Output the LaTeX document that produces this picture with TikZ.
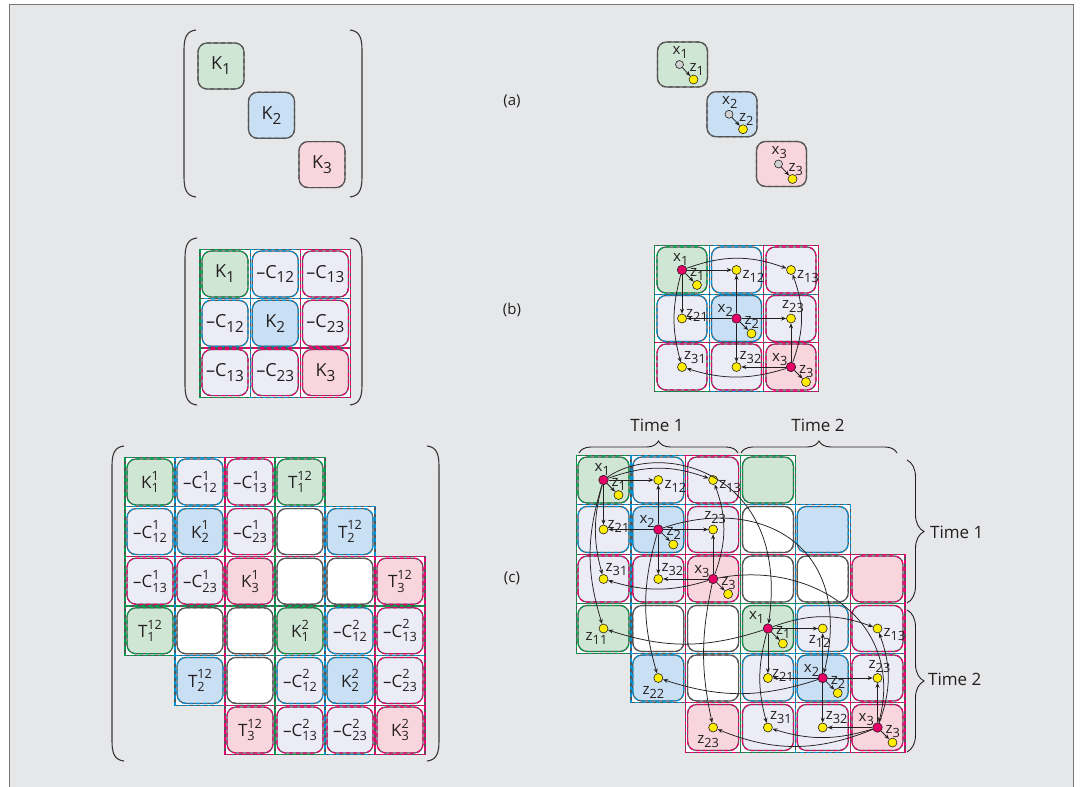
\documentclass[tikz,border=0pt]{standalone}
\usepackage{fontspec}
\setmainfont{Open Sans}
\usetikzlibrary{arrows.meta,decorations.pathreplacing}
\definecolor{bg}{RGB}{230,231,233}
\definecolor{fg}{RGB}{207,230,213}
\definecolor{fb}{RGB}{201,224,244}
\definecolor{fp}{RGB}{249,214,222}
\definecolor{fl}{RGB}{236,236,246}
\definecolor{dg}{RGB}{0,158,76}
\definecolor{db}{RGB}{0,146,214}
\definecolor{dp}{RGB}{232,0,112}
\definecolor{bd}{RGB}{85,85,85}
\definecolor{mag}{RGB}{228,0,100}
\definecolor{yel}{RGB}{255,237,0}
\definecolor{txt}{RGB}{35,31,32}
\definecolor{frm}{RGB}{120,120,120}

\newcommand{\lsub}[1]{\raisebox{-0.27em}{\scalebox{0.85}{#1}}}
\newcommand{\lsupsub}[2]{%
  \setbox0=\hbox{\scalebox{0.75}{#1}}%
  \setbox2=\hbox{\scalebox{0.75}{#2}}%
  \ifdim\wd0>\wd2 \dimen0=\wd0 \else \dimen0=\wd2 \fi
  \rlap{\raisebox{0.5em}{\copy0}}\raisebox{-0.25em}{\makebox[\dimen0][l]{\copy2}}}
\newcommand{\Cell}[6]{%
  \node[cell, fill=#4] (#1) at ({\gox+(#3-1)*\gpx},{\goy+(#2-1)*\gpy}) {#6};
  \draw[celldash, draw=#5] (#1.south west) rectangle (#1.north east);}
\newcommand{\RowBand}[4]{\path[band=#4] ({\gox+(#2-1.5)*\gpx},{\goy+(#1-1.5)*\gpy}) rectangle ({\gox+(#3-0.5)*\gpx},{\goy+(#1-0.5)*\gpy});}
\newcommand{\ColBand}[4]{\path[band=#4] ({\gox+(#1-1.5)*\gpx},{\goy+(#2-1.5)*\gpy}) rectangle ({\gox+(#1-0.5)*\gpx},{\goy+(#3-0.5)*\gpy});}
\newcommand{\BandsB}{\RowBand{1}{1}{3}{dg}\RowBand{2}{1}{3}{db}\RowBand{3}{1}{3}{dp}%
  \ColBand{1}{1}{3}{dg}\ColBand{2}{1}{3}{db}\ColBand{3}{1}{3}{dp}}
\newcommand{\BandsC}{\RowBand{1}{1}{4}{dg}\RowBand{2}{1}{5}{db}\RowBand{3}{1}{6}{dp}%
  \RowBand{4}{1}{6}{dg}\RowBand{5}{2}{6}{db}\RowBand{6}{3}{6}{dp}%
  \ColBand{1}{1}{4}{dg}\ColBand{2}{1}{5}{db}\ColBand{3}{1}{6}{dp}%
  \ColBand{4}{1}{6}{dg}\ColBand{5}{2}{6}{db}\ColBand{6}{3}{6}{dp}}
\newcommand{\LParen}[3]{\draw[paren] ({#1+12},#2) .. controls ({#1+3},{#2+1}) and (#1,{#2+7}) .. (#1,{#2+20}) -- (#1,{#3-20}) .. controls (#1,{#3-7}) and ({#1+3},{#3-1}) .. ({#1+12},#3);}
\newcommand{\RParen}[3]{\draw[paren] ({#1-12},#2) .. controls ({#1-3},{#2+1}) and (#1,{#2+7}) .. (#1,{#2+20}) -- (#1,{#3-20}) .. controls (#1,{#3-7}) and ({#1-3},{#3-1}) .. ({#1-12},#3);}
\newcommand{\Block}[4]{%
  \node[xdot] (#1x1) at ({\gox},{\goy}) {};
  \node[xdot] (#1x2) at ({\gox+\gpx},{\goy+\gpy}) {};
  \node[xdot] (#1x3) at ({\gox+2*\gpx},{\goy+2*\gpy}) {};
  \node[zdot] (#1z1) at ([shift={(15,15)}]#1x1.center) {};
  \node[zdot] (#1z2) at ([shift={(15,15)}]#1x2.center) {};
  \node[zdot] (#1z3) at ([shift={(15,15)}]#1x3.center) {};
  \node[zdot] (#1z12) at ({\gox+\gpx},{\goy}) {};
  \node[zdot] (#1z13) at ({\gox+2*\gpx},{\goy}) {};
  \node[zdot] (#1z21) at ({\gox},{\goy+\gpy}) {};
  \node[zdot] (#1z23) at ({\gox+2*\gpx},{\goy+\gpy}) {};
  \node[zdot] (#1z31) at ({\gox},{\goy+2*\gpy}) {};
  \node[zdot] (#1z32) at ({\gox+\gpx},{\goy+2*\gpy}) {};
  \draw[arr] (#1x1) -- (#1z1);
  \draw[arr] (#1x2) -- (#1z2);
  \draw[arr] (#1x3) -- (#1z3);
  \draw[arr] (#1x1) -- (#1z12);
  \draw[arr] (#1x1) to[bend left=20] (#1z13);
  \draw[arr] (#1x1) -- (#1z21);
  \draw[arr] (#1x1) to[bend right=15] (#1z31);
  \draw[arr] (#1x2) -- (#1z21);
  \draw[arr] (#1x2) -- (#1z23);
  \draw[arr] (#1x2) -- (#1z12);
  \draw[arr] (#1x2) -- (#1z32);
  \draw[arr] (#1x3) -- (#1z32);
  \draw[arr] (#1x3) to[bend left=17] (#1z31);
  \draw[arr] (#1x3) -- (#1z23);
  \draw[arr] (#1x3) to[bend right=20] (#1z13);
  \node[lab] (#1lx1) at ([shift={(#2,-9)}]#1x1.center) {x\lsub{1}};
  \node[lab] (#1lx2) at ([shift={(-19,-6)}]#1x2.center) {x\lsub{2}};
  \node[lab] (#1lx3) at ([shift={(-19,-6)}]#1x3.center) {x\lsub{3}};
  \node[lab] (#1lz1) at ([shift={(-7,-9)}]#1z1.center) {z\lsub{1}};
  \node[lab] (#1lz2) at ([shift={(-7,-9)}]#1z2.center) {z\lsub{2}};
  \node[lab] (#1lz3) at ([shift={(-7,-9)}]#1z3.center) {z\lsub{3}};
  \node[lab] (#1lz12) at ([shift={(#3,#4)}]#1z12.center) {z\lsub{12}};
  \node[lab] (#1lz13) at ([shift={(6,8)}]#1z13.center) {z\lsub{13}};
  \node[lab] (#1lz21) at ([shift={(4,-1)}]#1z21.center) {z\lsub{21}};
  \node[lab] (#1lz23) at ([shift={(-9,-10)}]#1z23.center) {z\lsub{23}};
  \node[lab] (#1lz31) at ([shift={(2,-8)}]#1z31.center) {z\lsub{31}};
  \node[lab] (#1lz32) at ([shift={(3,-8)}]#1z32.center) {z\lsub{32}};
}

\tikzset{
  cell/.style={draw=bd, line width=1.2pt, rounded corners=9pt, inner sep=0pt, outer sep=0pt, text=txt},
  celldash/.style={rounded corners=9pt, line width=1.2pt, dash pattern=on 4pt off 3pt},
  bandfill/.style={fill=white},
  banddraw/.style={preaction={draw=bd, solid, line width=1.2pt}, draw=#1, dash pattern=on 4pt off 3pt, line width=1.2pt},
  paren/.style={draw=txt!90, line width=1.1pt},
  xdot/.style={circle, fill=mag, draw=txt, line width=0.6pt, minimum size=9.5pt, inner sep=0pt},
  zdot/.style={circle, fill=yel, draw=txt, line width=0.6pt, minimum size=9pt, inner sep=0pt},
  gdot/.style={circle, fill=black!18, draw=txt, line width=0.6pt, minimum size=8pt, inner sep=0pt},
  arr/.style={draw=txt, line width=0.75pt, -{Stealth[length=5pt,width=4pt]}},
  lab/.style={font=\fontsize{15}{15}\selectfont, inner sep=0pt, text=txt, anchor=base west},
  plab/.style={font=\fontsize{15}{15}\selectfont, inner sep=0pt, text=txt},
  tlab/.style={font=\fontsize{17}{17}\selectfont, inner sep=0pt, text=txt},
  tbrace/.style={decorate, decoration={brace, amplitude=#1}, draw=txt, line width=0.9pt},
}

\begin{document}
\begin{tikzpicture}[x=1pt,y=-1pt]
\useasboundingbox (0,0) rectangle (1082,787);
\fill[white] (0,0) rectangle (1082,787);
\fill[bg] (9,4) rectangle (1073,787);
\draw[frm, line width=1pt] (9,787) -- (9,4) -- (1073,4) -- (1073,787);

% ---------- (a) left
\begin{scope}[cell/.append style={minimum width=46pt, minimum height=46pt, font=\fontsize{18}{18}\selectfont}]
\def\gox{221}\def\goy{66}\def\gpx{50.5}\def\gpy{49.3}
\Cell{al-1}{1}{1}{fg}{bd}{K\lsub{1}}
\Cell{al-2}{2}{2}{fb}{bd}{K\lsub{2}}
\Cell{al-3}{3}{3}{fp}{bd}{K\lsub{3}}
\end{scope}
\LParen{184}{30}{197}
\RParen{362}{30}{197}

% ---------- (a) right
\begin{scope}[cell/.append style={minimum width=50pt, minimum height=45pt}]
\def\gox{682.5}\def\goy{64.5}\def\gpx{49.5}\def\gpy{49.75}
\Cell{ar-1}{1}{1}{fg}{bd}{}
\Cell{ar-2}{2}{2}{fb}{bd}{}
\Cell{ar-3}{3}{3}{fp}{bd}{}
\end{scope}
\node[gdot] (ag1) at (679.5,64.5) {};
\node[gdot] (ag2) at (729,114.25) {};
\node[gdot] (ag3) at (778.5,164) {};
\node[zdot] (ay1) at ([shift={(14,15)}]ag1.center) {};
\node[zdot] (ay2) at ([shift={(14,15)}]ag2.center) {};
\node[zdot] (ay3) at ([shift={(14,15)}]ag3.center) {};
\draw[arr] (ag1) -- (ay1);
\draw[arr] (ag2) -- (ay2);
\draw[arr] (ag3) -- (ay3);
\node[lab] (alx1) at ([shift={(-7,-10)}]ag1.center) {x\lsub{1}};
\node[lab] (alx2) at ([shift={(-7,-10)}]ag2.center) {x\lsub{2}};
\node[lab] (alx3) at ([shift={(-7,-10)}]ag3.center) {x\lsub{3}};
\node[lab] (alz1) at ([shift={(-4,-8)}]ay1.center) {z\lsub{1}};
\node[lab] (alz2) at ([shift={(-4,-8)}]ay2.center) {z\lsub{2}};
\node[lab] (alz3) at ([shift={(-4,-8)}]ay3.center) {z\lsub{3}};

% ---------- (b) left
\begin{scope}[cell/.append style={minimum width=46pt, minimum height=46pt, font=\fontsize{18}{18}\selectfont}]
\def\gox{225}\def\goy{274}\def\gpx{50.2}\def\gpy{49.3}
\tikzset{band/.style={bandfill}}\BandsB
\tikzset{band/.style={banddraw=#1}}\BandsB
\Cell{bl-1-1}{1}{1}{fg}{dg}{K\lsub{1}}
\Cell{bl-1-2}{1}{2}{fl}{db}{\textendash C\lsub{12}}
\Cell{bl-1-3}{1}{3}{fl}{dp}{\textendash C\lsub{13}}
\Cell{bl-2-1}{2}{1}{fl}{db}{\textendash C\lsub{12}}
\Cell{bl-2-2}{2}{2}{fb}{db}{K\lsub{2}}
\Cell{bl-2-3}{2}{3}{fl}{dp}{\textendash C\lsub{23}}
\Cell{bl-3-1}{3}{1}{fl}{dp}{\textendash C\lsub{13}}
\Cell{bl-3-2}{3}{2}{fl}{dp}{\textendash C\lsub{23}}
\Cell{bl-3-3}{3}{3}{fp}{dp}{K\lsub{3}}
\end{scope}
\LParen{185}{238}{405}
\RParen{362}{238}{405}

% ---------- (b) right
\begin{scope}[cell/.append style={minimum width=50pt, minimum height=46pt}]
\def\gox{682}\def\goy{270}\def\gpx{54.5}\def\gpy{48.5}
\tikzset{band/.style={bandfill}}\BandsB
\tikzset{band/.style={banddraw=#1}}\BandsB
\Cell{br-1-1}{1}{1}{fg}{dg}{}
\Cell{br-1-2}{1}{2}{fl}{db}{}
\Cell{br-1-3}{1}{3}{fl}{dp}{}
\Cell{br-2-1}{2}{1}{fl}{db}{}
\Cell{br-2-2}{2}{2}{fb}{db}{}
\Cell{br-2-3}{2}{3}{fl}{dp}{}
\Cell{br-3-1}{3}{1}{fl}{dp}{}
\Cell{br-3-2}{3}{2}{fl}{dp}{}
\Cell{br-3-3}{3}{3}{fp}{dp}{}
\Block{b}{-9}{6}{8}
\end{scope}

% ---------- (c) left
\begin{scope}[cell/.append style={minimum width=46pt, minimum height=46pt, font=\fontsize{17}{17}\selectfont}]
\def\gox{150}\def\goy{482}\def\gpx{50}\def\gpy{49.6}
\tikzset{band/.style={bandfill}}\BandsC
\tikzset{band/.style={banddraw=#1}}\BandsC
\Cell{cl-1-1}{1}{1}{fg}{dg}{K\lsupsub{1}{1}}
\Cell{cl-1-2}{1}{2}{fl}{db}{\textendash C\lsupsub{1}{12}}
\Cell{cl-1-3}{1}{3}{fl}{dp}{\textendash C\lsupsub{1}{13}}
\Cell{cl-1-4}{1}{4}{fg}{dg}{T\lsupsub{12}{1}}
\Cell{cl-2-1}{2}{1}{fl}{db}{\textendash C\lsupsub{1}{12}}
\Cell{cl-2-2}{2}{2}{fb}{db}{K\lsupsub{1}{2}}
\Cell{cl-2-3}{2}{3}{fl}{dp}{\textendash C\lsupsub{1}{23}}
\Cell{cl-2-4}{2}{4}{white}{bd}{}
\Cell{cl-2-5}{2}{5}{fb}{db}{T\lsupsub{12}{2}}
\Cell{cl-3-1}{3}{1}{fl}{dp}{\textendash C\lsupsub{1}{13}}
\Cell{cl-3-2}{3}{2}{fl}{dp}{\textendash C\lsupsub{1}{23}}
\Cell{cl-3-3}{3}{3}{fp}{dp}{K\lsupsub{1}{3}}
\Cell{cl-3-4}{3}{4}{white}{bd}{}
\Cell{cl-3-5}{3}{5}{white}{bd}{}
\Cell{cl-3-6}{3}{6}{fp}{dp}{T\lsupsub{12}{3}}
\Cell{cl-4-1}{4}{1}{fg}{dg}{T\lsupsub{12}{1}}
\Cell{cl-4-2}{4}{2}{white}{bd}{}
\Cell{cl-4-3}{4}{3}{white}{bd}{}
\Cell{cl-4-4}{4}{4}{fg}{dg}{K\lsupsub{2}{1}}
\Cell{cl-4-5}{4}{5}{fl}{db}{\textendash C\lsupsub{2}{12}}
\Cell{cl-4-6}{4}{6}{fl}{dp}{\textendash C\lsupsub{2}{13}}
\Cell{cl-5-2}{5}{2}{fb}{db}{T\lsupsub{12}{2}}
\Cell{cl-5-3}{5}{3}{white}{bd}{}
\Cell{cl-5-4}{5}{4}{fl}{db}{\textendash C\lsupsub{2}{12}}
\Cell{cl-5-5}{5}{5}{fb}{db}{K\lsupsub{2}{2}}
\Cell{cl-5-6}{5}{6}{fl}{dp}{\textendash C\lsupsub{2}{23}}
\Cell{cl-6-3}{6}{3}{fp}{dp}{T\lsupsub{12}{3}}
\Cell{cl-6-4}{6}{4}{fl}{dp}{\textendash C\lsupsub{2}{13}}
\Cell{cl-6-5}{6}{5}{fl}{dp}{\textendash C\lsupsub{2}{23}}
\Cell{cl-6-6}{6}{6}{fp}{dp}{K\lsupsub{2}{3}}
\end{scope}
\LParen{112}{446}{761}
\RParen{439}{446}{761}

% ---------- (c) right
\begin{scope}[cell/.append style={minimum width=51pt, minimum height=46pt}]
\def\gox{603.5}\def\goy{480}\def\gpx{54.8}\def\gpy{49.5}
\tikzset{band/.style={bandfill}}\BandsC
\tikzset{band/.style={banddraw=#1}}\BandsC
\Cell{cr-1-1}{1}{1}{fg}{dg}{}
\Cell{cr-1-2}{1}{2}{fl}{db}{}
\Cell{cr-1-3}{1}{3}{fl}{dp}{}
\Cell{cr-1-4}{1}{4}{fg}{dg}{}
\Cell{cr-2-1}{2}{1}{fl}{db}{}
\Cell{cr-2-2}{2}{2}{fb}{db}{}
\Cell{cr-2-3}{2}{3}{fl}{dp}{}
\Cell{cr-2-4}{2}{4}{white}{bd}{}
\Cell{cr-2-5}{2}{5}{fb}{db}{}
\Cell{cr-3-1}{3}{1}{fl}{dp}{}
\Cell{cr-3-2}{3}{2}{fl}{dp}{}
\Cell{cr-3-3}{3}{3}{fp}{dp}{}
\Cell{cr-3-4}{3}{4}{white}{bd}{}
\Cell{cr-3-5}{3}{5}{white}{bd}{}
\Cell{cr-3-6}{3}{6}{fp}{dp}{}
\Cell{cr-4-1}{4}{1}{fg}{dg}{}
\Cell{cr-4-2}{4}{2}{white}{bd}{}
\Cell{cr-4-3}{4}{3}{white}{bd}{}
\Cell{cr-4-4}{4}{4}{fg}{dg}{}
\Cell{cr-4-5}{4}{5}{fl}{db}{}
\Cell{cr-4-6}{4}{6}{fl}{dp}{}
\Cell{cr-5-2}{5}{2}{fb}{db}{}
\Cell{cr-5-3}{5}{3}{white}{bd}{}
\Cell{cr-5-4}{5}{4}{fl}{db}{}
\Cell{cr-5-5}{5}{5}{fb}{db}{}
\Cell{cr-5-6}{5}{6}{fl}{dp}{}
\Cell{cr-6-3}{6}{3}{fp}{dp}{}
\Cell{cr-6-4}{6}{4}{fl}{dp}{}
\Cell{cr-6-5}{6}{5}{fl}{dp}{}
\Cell{cr-6-6}{6}{6}{fp}{dp}{}
\node[zdot] (zz11) at ({\gox},{\goy+3*\gpy}) {};
\node[zdot] (zz22) at ({\gox+\gpx},{\goy+4*\gpy}) {};
\node[zdot] (zz23) at ({\gox+2*\gpx},{\goy+5*\gpy}) {};
\Block{s}{-9}{6}{8}
\begin{scope}
\pgfmathsetmacro{\gox}{603.5+3*54.8}\pgfmathsetmacro{\goy}{480+3*49.5}
\Block{t}{-19}{-14}{15}
\end{scope}
\end{scope}
\node[lab] (lzz11) at ([shift={(-18,12)}]zz11.center) {z\lsub{11}};
\node[lab] (lzz22) at ([shift={(-16,16)}]zz22.center) {z\lsub{22}};
\node[lab] (lzz23) at ([shift={(-16,16)}]zz23.center) {z\lsub{23}};
\draw[arr] (sx1) to[bend right=17] (zz11);
\draw[arr] (sx2) to[bend right=16] (zz22);
\draw[arr] (sx3) to[bend right=12] (zz23);
\draw[arr] (tx1) to[bend left=18] (zz11);
\draw[arr] (tx2) to[bend left=18] (zz22);
\draw[arr] (tx3) to[bend left=22] (zz23);
\draw[arr] (sx1) .. controls (660,440) and (790,470) .. (tx1);
\draw[arr] (sx2) .. controls (760,495) and (855,545) .. (tx2);
\draw[arr] (sx3) .. controls (810,560) and (905,620) .. (tx3);

% braces and labels
\draw[tbrace=12pt] (579,453) -- (738,453);
\draw[tbrace=12pt] (741,453) -- (897,453);
\draw[tbrace=17pt] (907,460) -- (907,603);
\draw[tbrace=17pt] (907,610) -- (907,752);
\node[tlab] (time1a) at (657,425) {Time 1};
\node[tlab] (time2a) at (818,425) {Time 2};
\node[tlab, anchor=west] (time1b) at (930,532) {Time 1};
\node[tlab, anchor=west] (time2b) at (928,679) {Time 2};

\node[plab] (la) at (512,101) {(a)};
\node[plab] (lb) at (512,310) {(b)};
\node[plab] (lc) at (512,578) {(c)};
\end{tikzpicture}
\end{document}
